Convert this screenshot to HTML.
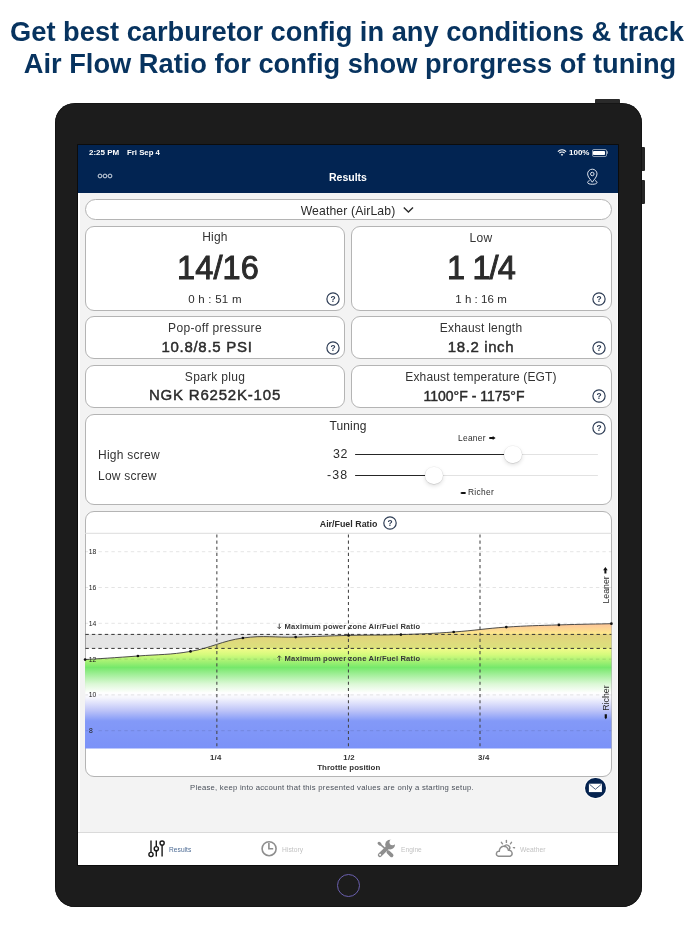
<!DOCTYPE html>
<html><head><meta charset="utf-8"><title>Results</title>
<style>
html,body{margin:0;padding:0;background:#fff;}
body{width:700px;height:934px;position:relative;overflow:hidden;font-family:"Liberation Sans",Arial,sans-serif;}
.a{position:absolute;}
.t{position:absolute;line-height:1;white-space:nowrap;will-change:transform;}
svg{will-change:transform;}
.card{position:absolute;box-sizing:border-box;background:#fff;border:1px solid #b4b4b4;}
.thumb{position:absolute;width:17.6px;height:17.6px;border-radius:50%;background:#fff;box-shadow:0 0.5px 1px rgba(0,0,0,0.12),0 2px 4px rgba(0,0,0,0.13),0 0 0 0.4px rgba(0,0,0,0.06);}
</style></head><body>
<div class="t" style="left:-353.50px;width:1400px;text-align:center;top:17.83px;font-size:27.25px;font-weight:bold;color:#07335f;">Get best carburetor config in any conditions &amp; track</div>
<div class="t" style="left:-350.50px;width:1400px;text-align:center;top:50.33px;font-size:27.25px;font-weight:bold;color:#07335f;">Air Flow Ratio for config show prorgress of tuning</div>
<div class="a" style="left:595px;top:99px;width:25px;height:6px;background:#2a2a2a;border-radius:1px"></div>
<div class="a" style="left:639px;top:147.1px;width:5.8px;height:24.2px;background:#262626;border-radius:1px"></div>
<div class="a" style="left:639px;top:179.8px;width:5.8px;height:24.6px;background:#262626;border-radius:1px"></div>
<div class="a" style="left:55px;top:103.2px;width:586.8px;height:803.5px;background:#1c1c1c;border-radius:20px;box-shadow:inset 0 0 0 0.6px #0e0e0e"></div>
<div class="a" style="left:337px;top:874px;width:21px;height:21px;border:1.3px solid #6a5fae;border-radius:50%"></div>
<div class="a" style="left:78px;top:145px;width:540px;height:720px;background:#f3f3f3;box-shadow:0 0 0 0.9px #0c0c0c"></div>
<div class="a" style="left:78px;top:193px;width:1.6px;height:639px;background:#fff"></div>
<div class="a" style="left:616.8px;top:193px;width:1.2px;height:639px;background:#fafafa"></div>
<div class="a" style="left:78px;top:145px;width:540px;height:48px;background:#022452"></div>
<div class="t" style="left:88.90px;top:148.53px;font-size:8.0px;font-weight:bold;color:#ffffff;">2:25 PM</div>
<div class="t" style="left:126.70px;top:148.70px;font-size:7.8px;font-weight:bold;color:#ffffff;">Fri Sep 4</div>
<div class="t" style="left:569.10px;top:148.73px;font-size:8px;font-weight:bold;color:#ffffff;">100%</div>
<svg class="a" style="left:557.2px;top:149px" width="10" height="7.5" viewBox="0 0 10 7.5"><path d="M0.9 2.6 A5.5 5.5 0 0 1 9.1 2.6" fill="none" stroke="#fff" stroke-width="1.1"/><path d="M2.4 4.2 A3.4 3.4 0 0 1 7.6 4.2" fill="none" stroke="#fff" stroke-width="1.1"/><path d="M5 6.9 L3.8 5.6 A1.8 1.8 0 0 1 6.2 5.6 Z" fill="#fff"/></svg>
<div class="a" style="left:591.5px;top:149px;width:13.5px;height:5.8px;border:0.8px solid rgba(255,255,255,0.55);border-radius:1.8px"></div>
<div class="a" style="left:593px;top:150.5px;width:11.6px;height:4.2px;background:#fff;border-radius:0.8px"></div>
<div class="a" style="left:607px;top:151.3px;width:1.2px;height:2.4px;background:rgba(255,255,255,0.55);border-radius:0 1px 1px 0"></div>
<svg class="a" style="left:96px;top:172px" width="18" height="8" viewBox="0 0 18 8"><circle cx="4" cy="4" r="1.9" fill="none" stroke="#e8ecf3" stroke-width="0.9"/><circle cx="9" cy="4" r="1.9" fill="none" stroke="#e8ecf3" stroke-width="0.9"/><circle cx="14" cy="4" r="1.9" fill="none" stroke="#e8ecf3" stroke-width="0.9"/></svg>
<div class="t" style="left:-351.70px;width:1400px;text-align:center;top:171.71px;font-size:10.5px;font-weight:bold;color:#ffffff;">Results</div>
<svg class="a" style="left:580px;top:164px" width="24" height="24" viewBox="580 164 24 24"><g fill="none" stroke="#e6eaf2" stroke-width="0.95"><path d="M592.3 182.2 C590.3 179.3 587.6 176.8 587.6 173.9 A4.7 4.7 0 0 1 597.0 173.9 C597.0 176.8 594.3 179.3 592.3 182.2 Z"/><circle cx="592.3" cy="174.0" r="1.75"/><path d="M589.6 180.6 C588.2 181.0 587.6 181.7 587.6 182.5 C587.6 183.6 589.7 184.3 592.3 184.3 C594.9 184.3 597.0 183.6 597.0 182.5 C597.0 181.7 596.4 181.0 595.0 180.6"/></g></svg>
<div class="card" style="left:84.7px;top:198.8px;width:527.1999999999999px;height:21.19999999999999px;border-radius:10.6px"></div>
<div class="t" style="left:-351.83px;width:1400px;text-align:center;top:205.07px;font-size:12.2px;color:#2b2b2b;letter-spacing:0.13px;">Weather (AirLab)</div>
<svg class="a" style="left:402px;top:205px" width="13" height="10" viewBox="0 0 13 10"><path d="M1.8 2.5 L6.4 7 L11 2.5" fill="none" stroke="#2b2b2b" stroke-width="1.4"/></svg>
<div class="card" style="left:84.9px;top:225.9px;width:260.4px;height:84.9px;border-radius:9px"></div>
<div class="card" style="left:350.9px;top:225.9px;width:261.0px;height:84.9px;border-radius:9px"></div>
<div class="card" style="left:84.9px;top:316.4px;width:260.4px;height:43.0px;border-radius:9px"></div>
<div class="card" style="left:350.9px;top:316.4px;width:261.0px;height:43.0px;border-radius:9px"></div>
<div class="card" style="left:84.9px;top:365.1px;width:260.4px;height:42.69999999999999px;border-radius:9px"></div>
<div class="card" style="left:350.9px;top:365.1px;width:261.0px;height:42.69999999999999px;border-radius:9px"></div>
<div class="card" style="left:84.9px;top:413.8px;width:527.0px;height:91.0px;border-radius:9px"></div>
<div class="card" style="left:84.9px;top:510.8px;width:527.0px;height:266.09999999999997px;border-radius:9px"></div>
<div class="t" style="left:-485.30px;width:1400px;text-align:center;top:231.34px;font-size:12px;color:#333;letter-spacing:0.2px;">High</div>
<div class="t" style="left:-481.55px;width:1400px;text-align:center;top:252.19px;font-size:32.5px;color:#2b2b2b;letter-spacing:0.1px;-webkit-text-stroke:0.95px #2b2b2b;">14/16</div>
<div class="t" style="left:-485.18px;width:1400px;text-align:center;top:294.07px;font-size:11.5px;color:#2b2b2b;letter-spacing:0.24px;">0 h : 51 m</div>
<svg class="a" style="left:324.80px;top:290.80px" width="16" height="16" viewBox="0 0 16 16"><circle cx="8" cy="8" r="6.1" fill="none" stroke="#2e3d55" stroke-width="1.2"/><text x="8" y="10.9" text-anchor="middle" font-family="Liberation Sans, sans-serif" font-weight="bold" font-size="8.4" fill="#2e3d55">?</text></svg>
<div class="t" style="left:-218.55px;width:1400px;text-align:center;top:231.84px;font-size:12px;color:#333;letter-spacing:0.3px;">Low</div>
<div class="t" style="left:-219.15px;width:1400px;text-align:center;top:252.19px;font-size:32.5px;color:#2b2b2b;letter-spacing:-0.9px;-webkit-text-stroke:0.95px #2b2b2b;">1 1/4</div>
<div class="t" style="left:-218.58px;width:1400px;text-align:center;top:293.77px;font-size:11.5px;color:#2b2b2b;letter-spacing:0.04px;">1 h : 16 m</div>
<svg class="a" style="left:591.20px;top:290.80px" width="16" height="16" viewBox="0 0 16 16"><circle cx="8" cy="8" r="6.1" fill="none" stroke="#2e3d55" stroke-width="1.2"/><text x="8" y="10.9" text-anchor="middle" font-family="Liberation Sans, sans-serif" font-weight="bold" font-size="8.4" fill="#2e3d55">?</text></svg>
<div class="t" style="left:-485.13px;width:1400px;text-align:center;top:321.94px;font-size:12px;color:#333;letter-spacing:0.33px;">Pop-off pressure</div>
<div class="t" style="left:-492.64px;width:1400px;text-align:center;top:338.50px;font-size:15px;color:#2b2b2b;letter-spacing:0.72px;-webkit-text-stroke:0.45px #2b2b2b;">10.8/8.5 PSI</div>
<svg class="a" style="left:324.80px;top:339.50px" width="16" height="16" viewBox="0 0 16 16"><circle cx="8" cy="8" r="6.1" fill="none" stroke="#2e3d55" stroke-width="1.2"/><text x="8" y="10.9" text-anchor="middle" font-family="Liberation Sans, sans-serif" font-weight="bold" font-size="8.4" fill="#2e3d55">?</text></svg>
<div class="t" style="left:-218.58px;width:1400px;text-align:center;top:322.14px;font-size:12px;color:#333;letter-spacing:0.23px;">Exhaust length</div>
<div class="t" style="left:-218.60px;width:1400px;text-align:center;top:338.50px;font-size:15px;color:#2b2b2b;letter-spacing:0.6px;-webkit-text-stroke:0.45px #2b2b2b;">18.2 inch</div>
<svg class="a" style="left:591.20px;top:339.50px" width="16" height="16" viewBox="0 0 16 16"><circle cx="8" cy="8" r="6.1" fill="none" stroke="#2e3d55" stroke-width="1.2"/><text x="8" y="10.9" text-anchor="middle" font-family="Liberation Sans, sans-serif" font-weight="bold" font-size="8.4" fill="#2e3d55">?</text></svg>
<div class="t" style="left:-485.25px;width:1400px;text-align:center;top:370.94px;font-size:12px;color:#333;letter-spacing:0.29px;">Spark plug</div>
<div class="t" style="left:-484.60px;width:1400px;text-align:center;top:386.70px;font-size:15px;color:#2b2b2b;letter-spacing:0.8px;-webkit-text-stroke:0.45px #2b2b2b;">NGK R6252K-105</div>
<div class="t" style="left:-218.92px;width:1400px;text-align:center;top:370.84px;font-size:12px;color:#333;letter-spacing:0.16px;">Exhaust temperature (EGT)</div>
<div class="t" style="left:-226.30px;width:1400px;text-align:center;top:388.55px;font-size:14px;color:#2b2b2b;-webkit-text-stroke:0.45px #2b2b2b;">1100°F - 1175°F</div>
<svg class="a" style="left:591.20px;top:388.00px" width="16" height="16" viewBox="0 0 16 16"><circle cx="8" cy="8" r="6.1" fill="none" stroke="#2e3d55" stroke-width="1.2"/><text x="8" y="10.9" text-anchor="middle" font-family="Liberation Sans, sans-serif" font-weight="bold" font-size="8.4" fill="#2e3d55">?</text></svg>
<div class="t" style="left:-351.93px;width:1400px;text-align:center;top:419.54px;font-size:12px;color:#2b2b2b;letter-spacing:0.15px;">Tuning</div>
<svg class="a" style="left:591.35px;top:419.50px" width="16" height="16" viewBox="0 0 16 16"><circle cx="8" cy="8" r="6.1" fill="none" stroke="#2e3d55" stroke-width="1.2"/><text x="8" y="10.9" text-anchor="middle" font-family="Liberation Sans, sans-serif" font-weight="bold" font-size="8.4" fill="#2e3d55">?</text></svg>
<div class="t" style="left:98.20px;top:448.74px;font-size:12px;color:#333;letter-spacing:0.25px;">High screw</div>
<div class="t" style="left:98.20px;top:469.94px;font-size:12px;color:#333;letter-spacing:0.23px;">Low screw</div>
<div class="t" style="right:352.00px;text-align:right;top:448.00px;font-size:12.4px;color:#2b2b2b;letter-spacing:0.5px;">32</div>
<div class="t" style="right:351.40px;text-align:right;top:469.40px;font-size:12.4px;color:#2b2b2b;letter-spacing:1.1px;">-38</div>
<div class="a" style="left:355px;top:453.6px;width:243.3px;height:1.7px;background:#e2e2e2;border-radius:1px"></div>
<div class="a" style="left:355px;top:453.6px;width:158px;height:1.7px;background:#262626;border-radius:1px"></div>
<div class="a" style="left:355px;top:474.8px;width:243.3px;height:1.7px;background:#e2e2e2;border-radius:1px"></div>
<div class="a" style="left:355px;top:474.8px;width:79px;height:1.7px;background:#262626;border-radius:1px"></div>
<div class="thumb" style="left:504.1px;top:445.5px"></div>
<div class="thumb" style="left:425.2px;top:466.8px"></div>
<div class="t" style="left:457.70px;top:434.49px;font-size:8.4px;color:#2b2b2b;letter-spacing:0.3px;">Leaner</div>
<svg class="a" style="left:488.6px;top:436.4px" width="7" height="4" viewBox="0 0 7 4"><path d="M0.3 1.1 H3.7 V0 L6.6 2 L3.7 4 V2.9 H0.3 Z" fill="#111"/></svg>
<svg class="a" style="left:459.6px;top:490.9px" width="6" height="4" viewBox="0 0 6 4"><path d="M5.6 1.0 H1.6 L0.2 2 L1.6 3.0 H5.6 Z" fill="#111"/></svg>
<div class="t" style="left:468.30px;top:487.89px;font-size:8.4px;color:#2b2b2b;letter-spacing:0.3px;">Richer</div>
<svg class="a" style="left:0;top:0" width="700" height="934" viewBox="0 0 700 934">
<defs><linearGradient id="g" gradientUnits="userSpaceOnUse" x1="0" y1="620" x2="0" y2="748.6"><stop offset="0" stop-color="#fdc597"/><stop offset="0.0467" stop-color="#fdcb97"/><stop offset="0.1089" stop-color="#fde98b"/><stop offset="0.2177" stop-color="#f5fb8b"/><stop offset="0.2722" stop-color="#d3fa7c"/><stop offset="0.3694" stop-color="#76e86b"/><stop offset="0.4977" stop-color="#dcf8d6"/><stop offset="0.5677" stop-color="#ffffff"/><stop offset="0.6065" stop-color="#f5f5fd"/><stop offset="0.6998" stop-color="#c0c6f8"/><stop offset="0.7854" stop-color="#8399f8"/><stop offset="1" stop-color="#7b92f8"/></linearGradient></defs>
<line x1="85" y1="533.3" x2="611.5" y2="533.3" stroke="#dcdcdc" stroke-width="1"/>
<path d="M85.1,659.6 C95.66,658.88 116.82,657.64 137.9,656.0 C158.98,654.36 169.50,655.00 190.5,651.4 C211.50,647.80 221.86,640.86 242.9,638.0 C263.94,635.14 274.56,637.62 295.7,637.1 C316.84,636.58 327.56,635.90 348.6,635.4 C369.64,634.90 379.88,635.28 400.9,634.6 C421.92,633.92 432.62,633.50 453.7,632.0 C474.78,630.50 485.26,628.52 506.3,627.1 C527.34,625.68 537.88,625.58 558.9,624.9 C579.92,624.22 600.90,623.94 611.4,623.7 L611.4,748.6 L85.0,748.6 Z" fill="url(#g)"/>
<line x1="98.5" y1="730.70" x2="611.4" y2="730.70" stroke="#000" stroke-opacity="0.12" stroke-width="0.9" stroke-dasharray="3.4 3.06"/>
<line x1="85.5" y1="730.70" x2="88" y2="730.70" stroke="#000" stroke-opacity="0.12" stroke-width="0.9"/>
<text x="88.9" y="733.10" font-family="Liberation Sans, sans-serif" font-size="6.8" fill="#222">8</text>
<line x1="98.5" y1="694.90" x2="611.4" y2="694.90" stroke="#000" stroke-opacity="0.12" stroke-width="0.9" stroke-dasharray="3.4 3.06"/>
<line x1="85.5" y1="694.90" x2="88" y2="694.90" stroke="#000" stroke-opacity="0.12" stroke-width="0.9"/>
<text x="88.8" y="697.30" font-family="Liberation Sans, sans-serif" font-size="6.8" fill="#222">10</text>
<line x1="98.5" y1="659.10" x2="611.4" y2="659.10" stroke="#000" stroke-opacity="0.12" stroke-width="0.9" stroke-dasharray="3.4 3.06"/>
<line x1="85.5" y1="659.10" x2="88" y2="659.10" stroke="#000" stroke-opacity="0.12" stroke-width="0.9"/>
<text x="88.8" y="661.50" font-family="Liberation Sans, sans-serif" font-size="6.8" fill="#222">12</text>
<line x1="98.5" y1="623.30" x2="611.4" y2="623.30" stroke="#000" stroke-opacity="0.12" stroke-width="0.9" stroke-dasharray="3.4 3.06"/>
<line x1="85.5" y1="623.30" x2="88" y2="623.30" stroke="#000" stroke-opacity="0.12" stroke-width="0.9"/>
<text x="88.8" y="625.70" font-family="Liberation Sans, sans-serif" font-size="6.8" fill="#222">14</text>
<line x1="98.5" y1="587.50" x2="611.4" y2="587.50" stroke="#000" stroke-opacity="0.12" stroke-width="0.9" stroke-dasharray="3.4 3.06"/>
<line x1="85.5" y1="587.50" x2="88" y2="587.50" stroke="#000" stroke-opacity="0.12" stroke-width="0.9"/>
<text x="88.8" y="589.90" font-family="Liberation Sans, sans-serif" font-size="6.8" fill="#222">16</text>
<line x1="98.5" y1="551.70" x2="611.4" y2="551.70" stroke="#000" stroke-opacity="0.12" stroke-width="0.9" stroke-dasharray="3.4 3.06"/>
<line x1="85.5" y1="551.70" x2="88" y2="551.70" stroke="#000" stroke-opacity="0.12" stroke-width="0.9"/>
<text x="88.8" y="554.10" font-family="Liberation Sans, sans-serif" font-size="6.8" fill="#222">18</text>
<rect x="85.0" y="634.04" width="526.4" height="14.32" fill="#000" fill-opacity="0.1"/>
<line x1="85.4" y1="634.40" x2="611.4" y2="634.40" stroke="#333" stroke-width="1" stroke-dasharray="3.4 3.07"/>
<line x1="85.4" y1="648.40" x2="611.4" y2="648.40" stroke="#333" stroke-width="1" stroke-dasharray="3.4 3.07"/>
<line x1="216.85" y1="534.4" x2="216.85" y2="748.6" stroke="#444" stroke-width="1.05" stroke-dasharray="3.1 3.04"/>
<line x1="348.43" y1="534.4" x2="348.43" y2="748.6" stroke="#444" stroke-width="1.05" stroke-dasharray="3.1 3.04"/>
<line x1="480.0" y1="534.4" x2="480.0" y2="748.6" stroke="#444" stroke-width="1.05" stroke-dasharray="3.1 3.04"/>
<path d="M85.1,659.6 C95.66,658.88 116.82,657.64 137.9,656.0 C158.98,654.36 169.50,655.00 190.5,651.4 C211.50,647.80 221.86,640.86 242.9,638.0 C263.94,635.14 274.56,637.62 295.7,637.1 C316.84,636.58 327.56,635.90 348.6,635.4 C369.64,634.90 379.88,635.28 400.9,634.6 C421.92,633.92 432.62,633.50 453.7,632.0 C474.78,630.50 485.26,628.52 506.3,627.1 C527.34,625.68 537.88,625.58 558.9,624.9 C579.92,624.22 600.90,623.94 611.4,623.7" fill="none" stroke="#3a3a3a" stroke-width="0.9"/>
<circle cx="85.1" cy="659.6" r="1.35" fill="#111"/>
<circle cx="137.9" cy="656.0" r="1.35" fill="#111"/>
<circle cx="190.5" cy="651.4" r="1.35" fill="#111"/>
<circle cx="242.9" cy="638.0" r="1.35" fill="#111"/>
<circle cx="295.7" cy="637.1" r="1.35" fill="#111"/>
<circle cx="348.6" cy="635.4" r="1.35" fill="#111"/>
<circle cx="400.9" cy="634.6" r="1.35" fill="#111"/>
<circle cx="453.7" cy="632.0" r="1.35" fill="#111"/>
<circle cx="506.3" cy="627.1" r="1.35" fill="#111"/>
<circle cx="558.9" cy="624.9" r="1.35" fill="#111"/>
<circle cx="611.4" cy="623.7" r="1.35" fill="#111"/>
<text x="284.6" y="628.9" font-family="Liberation Sans, sans-serif" font-weight="bold" font-size="7.6" fill="#383838" letter-spacing="0.17">Maximum power zone Air/Fuel Ratio</text>
<path d="M279.25 623.6 V628.6 M277.5 626.9 L279.25 628.7 L281 626.9" fill="none" stroke="#383838" stroke-width="0.9"/>
<text x="284.6" y="660.9" font-family="Liberation Sans, sans-serif" font-weight="bold" font-size="7.6" fill="#383838" letter-spacing="0.17">Maximum power zone Air/Fuel Ratio</text>
<path d="M279.25 661 V655.9 M277.5 657.6 L279.25 655.8 L281 657.6" fill="none" stroke="#383838" stroke-width="0.9"/>
<g transform="translate(608.6,604.2) rotate(-90)"><text x="0.6" y="0" font-family="Liberation Sans, sans-serif" font-size="8.8" fill="#2b2b2b" letter-spacing="0">Leaner</text><path d="M30.8 -2.2 H34 V-0.9 L37.2 -3.2 L34 -5.5 V-4.2 H30.8 Z" fill="#111"/></g>
<g transform="translate(609,719.2) rotate(-90)"><text x="8.4" y="0" font-family="Liberation Sans, sans-serif" font-size="8.8" fill="#2b2b2b" letter-spacing="0">Richer</text><path d="M5.0 -2.1 H1.4 L0 -3.2 L1.4 -4.3 H5.0 Z" fill="#111"/></g>
<text x="215.85" y="759.9" text-anchor="middle" font-family="Liberation Sans, sans-serif" font-weight="bold" font-size="7.8" fill="#333" letter-spacing="0.3">1/4</text>
<text x="349.15" y="759.9" text-anchor="middle" font-family="Liberation Sans, sans-serif" font-weight="bold" font-size="7.8" fill="#333" letter-spacing="0.3">1/2</text>
<text x="483.75" y="759.9" text-anchor="middle" font-family="Liberation Sans, sans-serif" font-weight="bold" font-size="7.8" fill="#333" letter-spacing="0.3">3/4</text>
<text x="348.8" y="769.6" text-anchor="middle" font-family="Liberation Sans, sans-serif" font-weight="bold" font-size="7.9" fill="#333" letter-spacing="0.05">Throttle position</text>
<text x="348.6" y="526.6" text-anchor="middle" font-family="Liberation Sans, sans-serif" font-weight="bold" font-size="8.9" fill="#2b2b2b">Air/Fuel Ratio</text>
</svg>
<svg class="a" style="left:382.30px;top:515.20px" width="16" height="16" viewBox="0 0 16 16"><circle cx="8" cy="8" r="6.2" fill="none" stroke="#2e3d55" stroke-width="1.2"/><text x="8" y="10.9" text-anchor="middle" font-family="Liberation Sans, sans-serif" font-weight="bold" font-size="8.4" fill="#2e3d55">?</text></svg>
<div class="t" style="left:-367.98px;width:1400px;text-align:center;top:784.08px;font-size:7.7px;color:#4a505a;letter-spacing:0.25px;">Please, keep into account that this presented values are only a starting setup.</div>
<div class="a" style="left:585.1px;top:777.5px;width:20.8px;height:20.8px;border-radius:50%;background:#05234f;box-shadow:0 0 0 0.8px #fff"></div>
<svg class="a" style="left:588px;top:783px" width="15" height="10" viewBox="0 0 15 10"><rect x="0.9" y="0.7" width="13" height="8.4" fill="#fff"/><path d="M1.5 1.3 L7.4 6.3 L13.3 1.3" fill="none" stroke="#02214f" stroke-width="0.7"/></svg>
<div class="a" style="left:78px;top:832px;width:540px;height:33px;box-sizing:border-box;background:#fff;border-top:0.8px solid #dadada"></div>
<svg class="a" style="left:146px;top:838px" width="20" height="21" viewBox="0 0 20 21"><g fill="none" stroke="#1a1a1a" stroke-width="1.4"><line x1="5" y1="2.6" x2="5" y2="14.4"/><circle cx="5" cy="16.5" r="2.1"/><line x1="10.3" y1="2.6" x2="10.3" y2="8.6"/><circle cx="10.3" cy="10.7" r="2.1"/><line x1="10.3" y1="12.8" x2="10.3" y2="18.4"/><circle cx="16.1" cy="5.1" r="2.1"/><line x1="16.1" y1="7.2" x2="16.1" y2="18.4"/></g></svg>
<div class="t" style="left:168.70px;top:847.01px;font-size:6.6px;color:#4d6b94;letter-spacing:0.05px;">Results</div>
<svg class="a" style="left:260px;top:840px" width="18" height="18" viewBox="0 0 18 18"><circle cx="9.1" cy="8.7" r="7.0" fill="none" stroke="#8e8e8e" stroke-width="1.6"/><path d="M8.9 3.0 L8.9 8.8 L13.2 8.8" fill="none" stroke="#8e8e8e" stroke-width="1.6"/></svg>
<div class="t" style="left:281.60px;top:846.93px;font-size:6.7px;color:#c2c2c2;letter-spacing:0.05px;">History</div>
<svg class="a" style="left:372px;top:836px" width="28" height="26" viewBox="372 836 28 26"><g stroke="#8e8e8e" stroke-linecap="round" fill="none"><line x1="379.2" y1="843.4" x2="387" y2="850.4" stroke-width="1.6"/><line x1="379" y1="843.2" x2="380" y2="844.1" stroke-width="2.9"/><line x1="388.4" y1="852.2" x2="391.6" y2="855.4" stroke-width="3.7"/><line x1="379.9" y1="855" x2="387.5" y2="847.6" stroke-width="4.1"/></g><circle cx="390.1" cy="844.6" r="4.9" fill="#8e8e8e"/><circle cx="392.5" cy="842.3" r="3.0" fill="#fff"/><circle cx="380.1" cy="854.8" r="1.0" fill="#fff"/></svg>
<div class="t" style="left:400.80px;top:847.01px;font-size:6.6px;color:#c2c2c2;letter-spacing:0.05px;">Engine</div>
<svg class="a" style="left:492px;top:836px" width="28" height="24" viewBox="492 836 28 24"><g fill="none" stroke="#8e8e8e" stroke-width="1.4" stroke-linecap="round" stroke-linejoin="round"><path d="M498.4 856.2 H510.4 A3.15 3.15 0 0 0 508.4 850.3 A4.3 4.3 0 0 0 499.4 851.3 A2.5 2.5 0 0 0 498.4 856.2 Z"/><path d="M504.3 846.4 A2.9 2.9 0 0 1 509.3 849.6"/><line x1="506.4" y1="840.4" x2="506.4" y2="842.4"/><line x1="501.4" y1="842.3" x2="502.5" y2="843.8"/><line x1="511.5" y1="842.3" x2="510.4" y2="843.8"/><line x1="513.4" y1="847.6" x2="514.5" y2="847.8"/></g></svg>
<div class="t" style="left:519.50px;top:846.93px;font-size:6.7px;color:#c2c2c2;letter-spacing:0.05px;">Weather</div>
</body></html>
